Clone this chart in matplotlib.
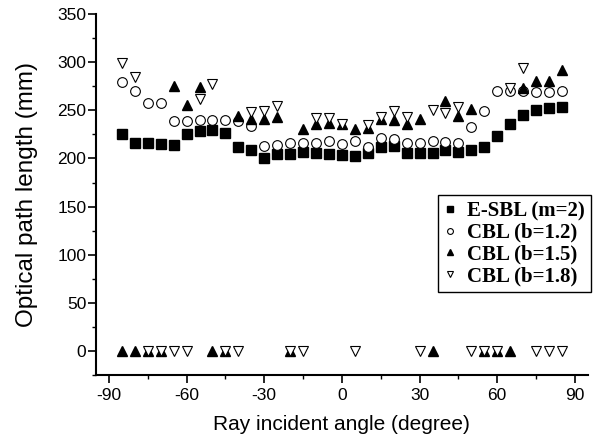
import matplotlib
matplotlib.use("Agg")
import matplotlib.pyplot as plt
from matplotlib.ticker import MultipleLocator

# angles (degree)
angles = [-85, -80, -75, -70, -65, -60, -55, -50, -45, -40, -35, -30,
          -25, -20, -15, -10, -5, 0, 5, 10, 15, 20, 25, 30,
          35, 40, 45, 50, 55, 60, 65, 70, 75, 80, 85]

# optical path length (mm)
esbl_m2 = [225, 216, 216, 215, 214, 225, 229, 230, 227, 212, 209, 201,
           205, 205, 207, 206, 205, 204, 203, 206, 212, 213, 206, 206,
           206, 209, 207, 209, 212, 223, 236, 245, 250, 252, 254]
cbl_b12 = [280, 270, 258, 258, 239, 239, 240, 240, 240, 239, 234, 213,
           214, 216, 216, 216, 218, 215, 218, 212, 221, 220, 216, 216,
           218, 217, 216, 233, 249, 270, 270, 270, 269, 269, 270]
cbl_b15 = [0, 0, 0, 0, 275, 256, 274, 0, 0, 244, 241, 241,
           243, 0, 231, 236, 237, 236, 231, 232, 241, 240, 236, 241,
           0, 260, 244, 251, 0, 0, 0, 273, 281, 281, 292]
cbl_b18 = [299, 285, 0, 0, 0, 0, 262, 277, 0, 0, 248, 249,
           255, 0, 0, 242, 242, 236, 0, 235, 243, 249, 243, 0,
           250, 247, 254, 0, 0, 0, 273, 294, 0, 0, 0]

labels = ['E-SBL (m=2)', 'CBL (b=1.2)', 'CBL (b=1.5)', 'CBL (b=1.8)']

plt.rcParams['font.family'] = ['Liberation Sans', 'DejaVu Sans']
plt.rcParams['axes.unicode_minus'] = False

fig = plt.figure(figsize=(5.98, 4.42), dpi=100)
ax = fig.add_axes([0.1605, 0.1516, 0.8225, 0.8164])

ax.plot(angles, esbl_m2, 's', color='black', markersize=6.5, label=labels[0])
ax.plot(angles, cbl_b12, 'o', markerfacecolor='white', markeredgecolor='black',
        markeredgewidth=0.8, markersize=7, label=labels[1])
ax.plot(angles, cbl_b15, '^', color='black', markersize=7.5, label=labels[2])
ax.plot(angles, cbl_b18, 'v', markerfacecolor='white', markeredgecolor='black',
        markeredgewidth=0.8, markersize=7.5, label=labels[3])

ax.set_xlim(-95, 95)
ax.set_ylim(-25, 350)
ax.xaxis.set_major_locator(MultipleLocator(30))
ax.xaxis.set_minor_locator(MultipleLocator(15))
ax.yaxis.set_major_locator(MultipleLocator(50))
ax.yaxis.set_minor_locator(MultipleLocator(25))

ax.spines['top'].set_visible(False)
ax.spines['right'].set_visible(False)
for s in ('left', 'bottom'):
    ax.spines[s].set_linewidth(1.5)
ax.tick_params(which='major', direction='out', length=5.5, width=1.2, labelsize=12.5)
ax.tick_params(axis='x', which='major', pad=4)
ax.tick_params(axis='y', which='major', pad=1.5)
ax.tick_params(which='minor', direction='out', length=3, width=1.0)

ax.set_xlabel('Ray incident angle (degree)', fontsize=15)
ax.set_ylabel('Optical path length (mm)', fontsize=17.5)
ax.xaxis.set_label_coords(0.5, -0.112)
ax.yaxis.set_label_coords(-0.118, 0.5)

leg = ax.legend(loc='upper right', bbox_to_anchor=(1.006, 0.499), borderaxespad=0,
                prop={'family': 'Liberation Serif', 'weight': 'bold', 'size': 15},
                markerscale=0.6, handlelength=0.6, handletextpad=0.5,
                labelspacing=0.08, borderpad=0.3, fancybox=False, framealpha=1)
leg.get_frame().set_edgecolor('black')
leg.get_frame().set_linewidth(1.0)

fig.savefig('out.png', dpi=100)
